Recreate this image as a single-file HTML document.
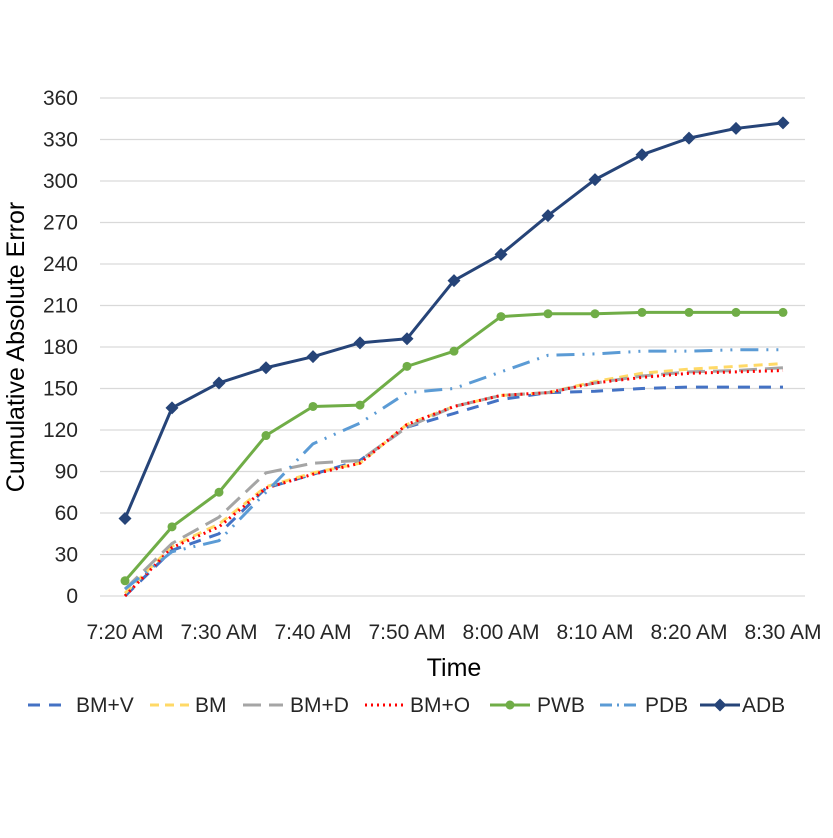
<!DOCTYPE html>
<html><head><meta charset="utf-8"><style>
body{margin:0;background:#fff;font-family:"Liberation Sans",sans-serif}
</style></head><body>
<svg id="c" width="833" height="833" font-family="Liberation Sans, sans-serif"></svg>
<script>
const categories=["7:20 AM","7:25","7:30 AM","7:35","7:40 AM","7:45","7:50 AM","7:55","8:00 AM","8:05","8:10 AM","8:15","8:20 AM","8:25","8:30 AM"];
const yTicks=[0,30,60,90,120,150,180,210,240,270,300,330,360];
const bmv=[0,33,45,78,88,98,122,132,142,147,148,150,151,151,151];
const bm=[2,36,52,79,89,96,124,137,145,147,155,161,164,166,168];
const bmd=[5,38,57,89,96,98,122,137,145,147,154,159,162,163,165];
const bmo=[0,35,50,78,88,96,124,137,145,147,154,158,161,162,163];
const pwb=[11,50,75,116,137,138,166,177,202,204,204,205,205,205,205];
const pdb=[5,32,40,75,110,125,147,150,162,174,175,177,177,178,178];
const adb=[56,136,154,165,173,183,186,228,247,275,301,319,331,338,342];
const series=[
 {n:"BM+V",d:bmv,c:"#4472c4",w:3,da:"12,9"},
 {n:"BM",d:bm,c:"#ffd966",w:3,da:"9,6"},
 {n:"BM+D",d:bmd,c:"#a5a5a5",w:3,da:"18,8"},
 {n:"BM+O",d:bmo,c:"#ff0000",w:3,da:"2,4"},
 {n:"PWB",d:pwb,c:"#70ad47",w:3,da:"",m:"circle"},
 {n:"PDB",d:pdb,c:"#5b9bd5",w:3,da:"18,8,2,8,2,8"},
 {n:"ADB",d:adb,c:"#264478",w:3,da:"",m:"diamond"}];
const NS="http://www.w3.org/2000/svg",svg=document.getElementById('c');
const X0=125,X1=783,Y0=596,Y1=98;
const xs=i=>X0+(X1-X0)*i/(categories.length-1);
const ys=v=>Y0-(Y0-Y1)*v/360;
function el(t,a,p){const e=document.createElementNS(NS,t);for(const k in a)e.setAttribute(k,a[k]);(p||svg).appendChild(e);return e;}
yTicks.forEach(v=>{
 const g=el('line',{x1:100,x2:805,y1:ys(v),y2:ys(v),stroke:"#d9d9d9","stroke-width":1.3});
 
 
 const t=el('text',{x:78,y:ys(v)+7,"text-anchor":"end","font-size":21,fill:"#262626"});t.textContent=v;
 
 
});
categories.forEach((c,i)=>{if(i%2)return;
 const t=el('text',{x:xs(i),y:639,"text-anchor":"middle","font-size":21,fill:"#262626"});t.textContent=c;
 
 
});
let t=el('text',{x:454,y:676,"text-anchor":"middle","font-size":25,fill:"#000"});t.textContent="Time";


t=el('text',{transform:"translate(24,347) rotate(-90)","text-anchor":"middle","font-size":25,fill:"#000"});t.textContent="Cumulative Absolute Error";


function marker(s,x,y,g){
 if(s.m==="circle"){const m=el('circle',{cx:x,cy:y,r:4.5,fill:s.c},g);}
 if(s.m==="diamond"){const m=el('path',{d:`M${x} ${y-6.5}L${x+6.5} ${y}L${x} ${y+6.5}L${x-6.5} ${y}Z`,fill:s.c},g);}
}
series.forEach(s=>{
 const g=el('g',{});
 
 
 const p=el('polyline',{points:s.d.map((v,i)=>xs(i)+","+ys(v)).join(" "),fill:"none",stroke:s.c,"stroke-width":s.w,"stroke-dasharray":s.da,"stroke-linejoin":"round"},g);
 
 
 s.d.forEach((v,i)=>marker(s,xs(i),ys(v),g));
});
const lx=[28,150,243,365,490,600,700];
const tx=[76,195,290,410,537,645,742];
series.forEach((s,i)=>{
 const g=el('g',{});
 
 
 const y=705,x=lx[i];
 el('line',{x1:x,x2:x+40,y1:y,y2:y,stroke:s.c,"stroke-width":3,"stroke-dasharray":s.da==="18,8,2,8,2,8"?"12,5,2,5":s.da},g);
 marker(s,x+20,y,g);
 const tt=el('text',{x:tx[i],y:y+7,"font-size":21,fill:"#262626"},g);tt.textContent=s.n;
});
</script>
</body></html>
